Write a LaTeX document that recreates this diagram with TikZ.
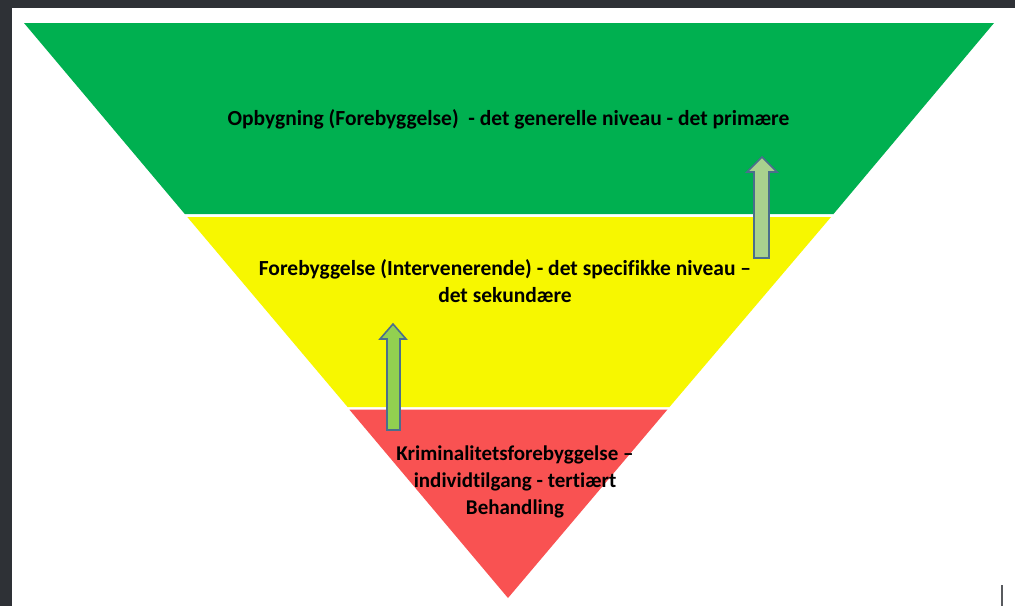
\documentclass[tikz,border=0pt]{standalone}
\usepackage{fontspec}
\setmainfont{Carlito}[Ligatures=NoCommon, RawFeature={-liga;-clig}]
\definecolor{frame}{RGB}{46,49,54}
\definecolor{lvlgreen}{RGB}{0,176,80}
\definecolor{lvlyellow}{RGB}{247,247,0}
\definecolor{lvlred}{RGB}{249,82,82}
\definecolor{arrowA}{RGB}{169,209,142}
\definecolor{arrowB}{RGB}{146,208,80}
\definecolor{arrowline}{RGB}{75,110,140}
\tikzset{
  band/.style={draw=none},
  lvltext/.style={font=\bfseries\fontsize{21.5}{27}\selectfont, align=center, text=black, inner sep=0pt},
  uparrow/.style={draw=arrowline, line width=1.6pt, line join=miter}
}
\begin{document}
\begin{tikzpicture}[x=1pt,y=-1pt]
\useasboundingbox (0,0) rectangle (1015,606);
\fill[white] (0,0) rectangle (1015,606);
% window frame
\fill[frame] (0,0) rectangle (1015,8);
\fill[frame] (0,0) rectangle (12,606);
% bands
\fill[lvlgreen] (24,23) -- (994,23) -- (833.5,214) -- (184.8,214) -- cycle;
\fill[lvlyellow] (187.3,217) -- (831,217) -- (669.5,407) -- (347.6,407) -- cycle;
\fill[lvlred] (349.3,409.5) -- (667.5,409.5) -- (508,598) -- cycle;
% arrows
\draw[uparrow, fill=arrowA] (754,258) -- (754,172) -- (747,172) -- (762,157) -- (777,172) -- (769,172) -- (769,258) -- cycle;
\draw[uparrow, fill=arrowB] (387,430) -- (387,339) -- (380,339) -- (393,324) -- (406,339) -- (400,339) -- (400,430) -- cycle;
% texts
\node[lvltext] (t1) at (508.5,119) {Opbygning (Forebyggelse)\ \ - det generelle niveau - det primære};
\node[lvltext] (t2) at (505,281) {Forebyggelse (Intervenerende) - det specifikke niveau –\\det sekundære};
\node[lvltext, font=\bfseries\fontsize{21}{27}\selectfont] (t3) at (515,482) {Kriminalitetsforebyggelse –\\individtilgang - tertiært\\Behandling};
% cursor
\fill[frame!80] (1001,585) rectangle (1003,606);
\end{tikzpicture}
\end{document}
